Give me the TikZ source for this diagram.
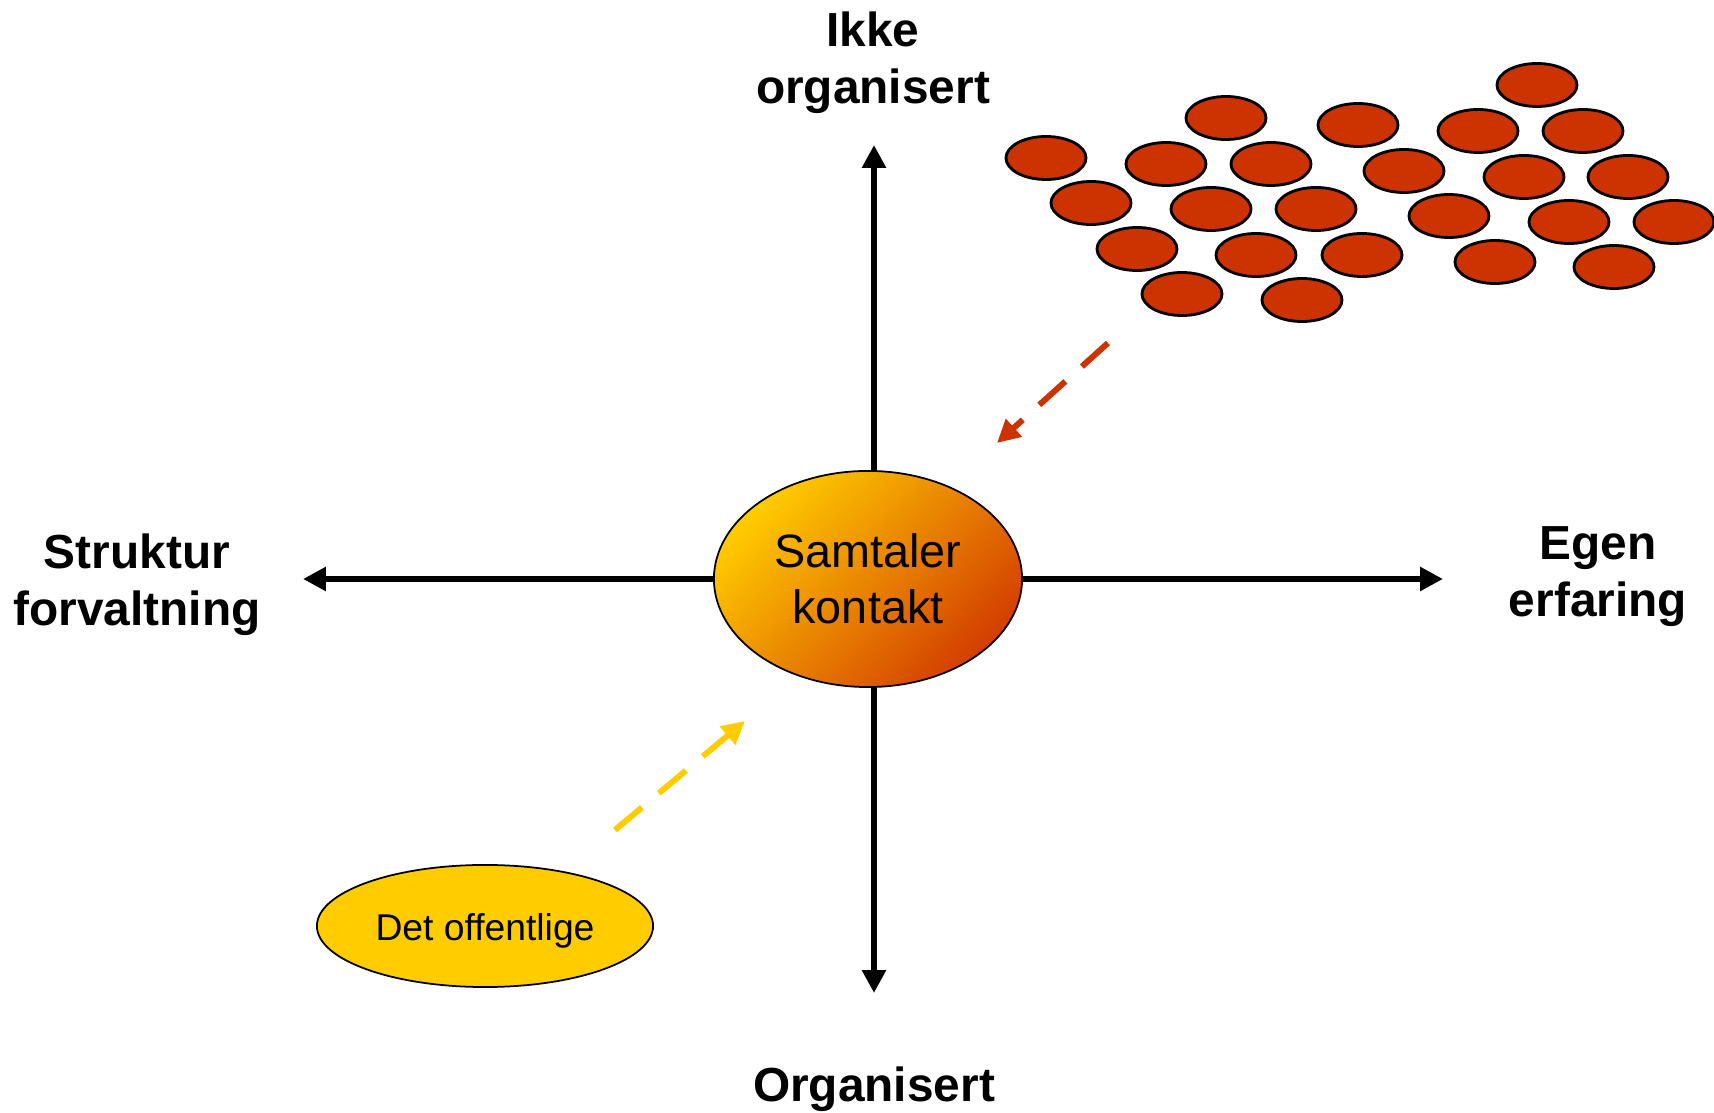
\documentclass[tikz,border=0pt]{standalone}
\usepackage{fontspec}
\setmainfont{Liberation Sans}
\usetikzlibrary{shapes.geometric,arrows.meta}
\definecolor{gold}{HTML}{FFCC00}
\definecolor{amber}{HTML}{E69500}
\definecolor{rust}{HTML}{CC3300}
\tikzset{
  axis/.style={line width=1.9pt},
  push/.style={line width=1.7pt,dash pattern=on 10pt off 6.3pt},
  hub/.style={ellipse,draw,line width=0.5pt,top color=gold,middle color=amber,
    bottom color=rust!85!orange,shading angle=45,minimum width=3.08cm,
    minimum height=2.16cm,inner sep=0pt,align=center,
    font=\fontsize{13.3pt}{15.8pt}\selectfont},
  public/.style={ellipse,draw,line width=0.5pt,fill=gold,minimum width=3.36cm,
    minimum height=1.22cm,inner sep=0pt,text height=10.4pt,text depth=2.2pt,
    font=\fontsize{10.6pt}{12.7pt}\selectfont},
  blob/.style={ellipse,draw,line width=0.8pt,fill=rust,minimum width=0.8cm,
    minimum height=0.43cm,inner sep=0pt},
  axislabel/.style={align=center,inner sep=0pt,
    font=\fontsize{13.6pt}{16.2pt}\selectfont\bfseries}
}
\begin{document}
\begin{tikzpicture}[x=0.01cm,y=-0.01cm,>={Triangle[length=6.5pt,width=6.5pt]}]
  \useasboundingbox (0,0) rectangle (1714,1113);

  % — Axis end points
  \coordinate (up)    at (874, 145);
  \coordinate (down)  at (874, 993);
  \coordinate (west)  at (303, 579);
  \coordinate (east)  at (1443, 579);

  % — The two axes
  \draw [axis, <->] (down) -- (up);
  \draw [axis, <->] (west) -- (east);

  % — Centre of the cross
  \node [hub] (talk) at (868, 579) {Samtaler\\kontakt};

  % — Axis labels
  \node [axislabel] (unorg)  at (873, 63)   {Ikke\\organisert};
  \node [axislabel] (org)    at (874, 1089) {Organisert};
  \node [axislabel] (struct) at (137, 585)  {Struktur\\forvaltning};
  \node [axislabel] (own)    at (1598, 577) {Egen\\erfaring};

  % — The public body
  \node [public] (state) at (485, 926) {Det offentlige};

  % — Crowd of single persons
  \foreach \x/\y [count=\i] in {
      1537/85, 1226/118, 1358/125, 1478/131, 1583/131,
      1046/158, 1166/164, 1271/164, 1404/171, 1524/177, 1628/177,
      1091/203, 1211/209, 1316/209, 1449/216, 1569/222, 1674/222,
      1137/249, 1256/255, 1362/255, 1495/262, 1614/267,
      1182/294, 1302/300}
    \node [blob] (p\i) at (\x, \y) {};

  % — Pull from the crowd and from the public side
  \coordinate (crowdfoot) at (1108, 343);
  \coordinate (crowdtip)  at (997, 443);
  \coordinate (statefoot) at (615, 830);
  \coordinate (statetip)  at (745, 721);
  \draw [push, rust, ->] (crowdfoot) -- (crowdtip);
  \draw [push, gold, ->] (statefoot) -- (statetip);
\end{tikzpicture}
\end{document}
